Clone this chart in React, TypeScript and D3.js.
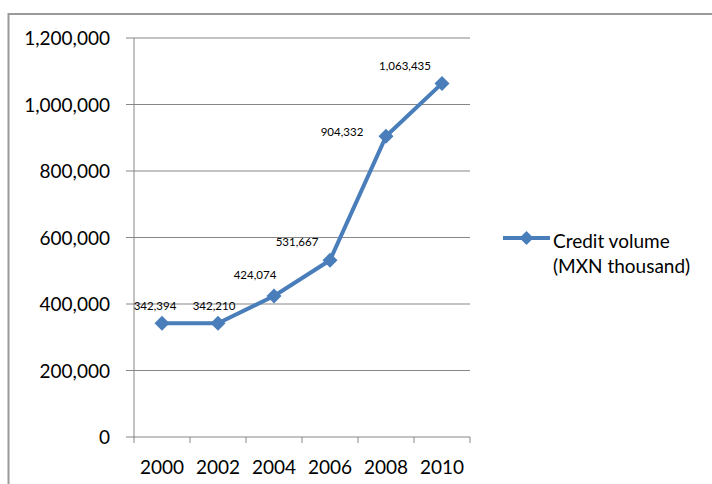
import React from "react";
import * as d3 from "d3";

const years = ["2000", "2002", "2004", "2006", "2008", "2010"];
const creditVolume = [342394, 342210, 424074, 531667, 904332, 1063435];
const yTicks = [0, 200000, 400000, 600000, 800000, 1000000, 1200000];
const legendLines = ["Credit volume", "(MXN thousand)"];

// per-label placement (dx, dy from the marker), as in the original chart
const labelOffsets: [number, number][] = [
  [-7, -13],
  [-4, -13],
  [-19, -17],
  [-33, -14],
  [-44, 0],
  [-37, -13],
];

const FONT = "Lato, 'Open Sans', sans-serif";
const BLUE = "#4A7EBB";
const GRID = "#878787";

export default function App() {
  const W = 712;
  const H = 484;
  const left = 134;
  const right = 470;
  const top = 38;
  const bottom = 437;

  const x = d3.scaleBand<string>().domain(years).range([left, right]).padding(0);
  const y = d3.scaleLinear().domain([0, 1200000]).range([bottom, top]);
  const fmt = d3.format(",");
  const cx = (yr: string) => (x(yr) as number) + x.bandwidth() / 2;

  const pts: [number, number][] = years.map((yr, i) => [cx(yr), y(creditVolume[i])]);
  const line = d3.line<[number, number]>().x((d) => d[0]).y((d) => d[1]);

  const diamond = (px: number, py: number, r: number) =>
    `M${px},${py - r}L${px + r},${py}L${px},${py + r}L${px - r},${py}Z`;

  const tickEdges = [...years.map((yr) => x(yr) as number), right];

  return (
    <svg
      width={W}
      height={H}
      style={{ position: "absolute", left: 0, top: 0, background: "#fff" }}
      fontFamily={FONT}
    >
      <rect x={0} y={0} width={W} height={H} fill="#fff" />
      {/* outer chart border */}
      <rect x={8.5} y={14} width={W + 20} height={H + 20} fill="none" stroke="#9a9a9a" strokeWidth={2} />

      {/* gridlines */}
      {yTicks.map((t) => (
        <line key={"g" + t} x1={left - 8} x2={right} y1={y(t)} y2={y(t)} stroke={GRID} strokeWidth={1} />
      ))}
      {/* y axis */}
      <line x1={left} x2={left} y1={top} y2={bottom + 1} stroke={GRID} strokeWidth={1} />
      {/* x axis ticks */}
      {tickEdges.map((tx, i) => (
        <line key={"xt" + i} x1={tx} x2={tx} y1={bottom} y2={bottom + 6} stroke={GRID} strokeWidth={1} />
      ))}

      {/* y tick labels */}
      {yTicks.map((t) => (
        <text key={"yl" + t} x={110} y={y(t) + 7} textAnchor="end" fontSize={19} fill="#000">
          {fmt(t)}
        </text>
      ))}
      {/* x tick labels */}
      {years.map((yr) => (
        <text key={"xl" + yr} x={cx(yr)} y={474} textAnchor="middle" fontSize={19} fill="#000">
          {yr}
        </text>
      ))}

      {/* series */}
      <path d={line(pts) || ""} fill="none" stroke={BLUE} strokeWidth={4} strokeLinejoin="round" />
      {pts.map(([px, py], i) => (
        <path key={"m" + i} d={diamond(px, py, 7.5)} fill={BLUE} />
      ))}
      {/* data labels */}
      {pts.map(([px, py], i) => (
        <text
          key={"dl" + i}
          x={px + labelOffsets[i][0]}
          y={py + labelOffsets[i][1]}
          textAnchor="middle"
          fontSize={11.5}
          fill="#000"
        >
          {fmt(creditVolume[i])}
        </text>
      ))}

      {/* legend */}
      <line x1={503} x2={550} y1={238} y2={238} stroke={BLUE} strokeWidth={4} />
      <path d={diamond(526.5, 238, 7)} fill={BLUE} />
      {legendLines.map((t, i) => (
        <text key={"lg" + i} x={553} y={248 + i * 25} fontSize={19} fill="#000">
          {t}
        </text>
      ))}
    </svg>
  );
}
